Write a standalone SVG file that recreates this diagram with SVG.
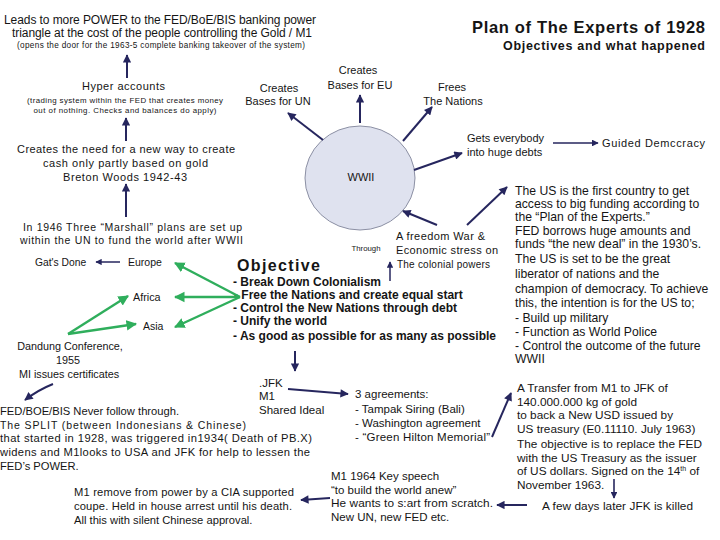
<svg xmlns="http://www.w3.org/2000/svg" width="720" height="540" viewBox="0 0 720 540">
<style>
text{font-family:"Liberation Sans",Arial,sans-serif;fill:#151515;font-size:11px}
.s{font-size:8.2px}
.m{font-size:11.5px}
.rb{font-size:12.2px}
.ob{font-size:12px;font-weight:bold}
.b{font-weight:bold}
.c{text-anchor:middle}
.r{text-anchor:end}
.nv{fill:none;stroke:#26265e;stroke-width:2}
.gr{fill:none;stroke:#2fae5c;stroke-width:2.4}
</style>
<defs>
<marker id="an" viewBox="0 0 10 10" refX="9" refY="5" markerWidth="4.6" markerHeight="4.2" orient="auto"><path d="M0,0 L10,5 L0,10 Z" fill="#26265e"/></marker>
<marker id="ag" viewBox="0 0 10 10" refX="9" refY="5" markerWidth="4.4" markerHeight="4.6" orient="auto"><path d="M0,0 L10,5 L0,10 Z" fill="#2fae5c"/></marker>
</defs>
<rect width="720" height="540" fill="#fff"/>

<g id="title">
<text x="705" y="33" class="b r" style="font-size:16.5px" textLength="233">Plan of The Experts of 1928</text>
<text x="705" y="50" class="b r" style="font-size:12.5px" textLength="202">Objectives and what happened</text>
</g>

<g id="power">
<text x="160" y="24" class="c" style="font-size:12px" textLength="312">Leads to more POWER to the FED/BoE/BIS banking power</text>
<text x="162" y="37" class="c" style="font-size:12px" textLength="300">triangle at the cost of the people controlling the Gold / M1</text>
<text x="161" y="47.5" class="c s" textLength="288">(opens the door for the 1963-5 complete banking takeover of the system)</text>
</g>

<g id="hyper">
<text x="123.5" y="90" class="c" textLength="83">Hyper accounts</text>
<text x="125" y="102.5" class="c s" style="font-size:7.9px" textLength="196">(trading system within the FED that creates money</text>
<text x="125" y="113" class="c s" style="font-size:7.9px" textLength="183">out of nothing. Checks and balances do apply)</text>
</g>

<g id="bretton">
<text x="126" y="153" class="c" textLength="218">Creates the need for a new way to create</text>
<text x="125.5" y="167" class="c" textLength="165">cash only partly based on gold</text>
<text x="125" y="181" class="c" textLength="124">Breton Woods 1942-43</text>
</g>

<g id="marshall">
<text x="132.5" y="231" class="c" style="font-size:10.5px" textLength="219">In 1946 Three “Marshall” plans are set up</text>
<text x="131.5" y="244" class="c" style="font-size:10.5px" textLength="223">within the UN to fund the world after WWII</text>
</g>

<g id="gatsdone"><text x="35" y="266" style="font-size:10.3px">Gat's Done</text></g>
<g id="europe"><text x="128" y="266" style="font-size:10.5px">Europe</text></g>
<g id="africa"><text x="133" y="300.5" style="font-size:10.8px">Africa</text></g>
<g id="asia"><text x="143" y="329.5" style="font-size:10.5px">Asia</text></g>

<g id="dandung">
<text x="70" y="350" class="c" style="font-size:10.8px">Dandung Conference,</text>
<text x="68" y="364" class="c" style="font-size:10.8px">1955</text>
<text x="69" y="377.5" class="c" style="font-size:10.8px">MI issues certificates</text>
</g>

<g id="un"><text x="279" y="92" class="c">Creates</text><text x="278" y="104.5" class="c">Bases for UN</text></g>
<g id="eu"><text x="358" y="74" class="c">Creates</text><text x="360" y="89" class="c">Bases for EU</text></g>
<g id="frees"><text x="452" y="91" class="c">Frees</text><text x="453" y="104.5" class="c">The Nations</text></g>

<g id="wwii">
<ellipse cx="360" cy="178" rx="55" ry="52" fill="#dfe2ef" stroke="#8c90a4" stroke-width="1"/>
<text x="361" y="181" class="c">WWII</text>
</g>

<g id="debts">
<text x="467" y="142" style="font-size:11px">Gets everybody</text>
<text x="467" y="156" style="font-size:11px">into huge debts</text>
</g>
<g id="guided"><text x="602" y="147" style="font-size:11px" textLength="103">Guided Demccracy</text></g>

<g id="freedom">
<text x="366" y="251" class="c" style="font-size:7.8px">Through</text>
<text x="396" y="240" textLength="89">A freedom War &amp;</text>
<text x="396" y="253.5" textLength="102">Economic stress on</text>
<text x="397" y="268" style="font-size:10px" textLength="93">The colonial powers</text>
</g>

<g id="usfirst">
<text x="515" y="195" class="rb">The US is the first country to get</text>
<text x="515" y="208" class="rb">access to big funding according to</text>
<text x="515" y="221" class="rb">the “Plan of the  Experts.”</text>
<text x="515" y="234.5" class="rb">FED borrows huge amounts and</text>
<text x="515" y="248" class="rb">funds “the new deal”  in the 1930’s.</text>
<text x="515" y="262.5" class="rb">The US is set to be the great</text>
<text x="515" y="277.5" class="rb">liberator of nations and the</text>
<text x="515" y="292.5" class="rb">champion of democracy. To achieve</text>
<text x="515" y="307" class="rb">this, the intention is for the US to;</text>
<text x="515" y="321.5" class="rb">- Build up military</text>
<text x="515" y="336" class="rb">- Function as World Police</text>
<text x="515" y="350" class="rb">- Control the outcome of the future</text>
<text x="515" y="362.5" class="rb">WWII</text>
</g>

<g id="objective">
<text x="237" y="271" class="b" style="font-size:16px" textLength="83">Objective</text>
<text x="233" y="286" class="ob">- Break Down Colonialism</text>
<text x="234" y="298.5" class="ob">- Free the Nations and create equal start</text>
<text x="233" y="312" class="ob">- Control the New Nations through debt</text>
<text x="233" y="325" class="ob">- Unify the world</text>
<text x="233" y="339.5" class="ob">- As good as possible for as many as possible</text>
</g>

<g id="jfk">
<text x="259" y="387" class="m">.JFK</text>
<text x="259" y="400" class="m">M1</text>
<text x="259" y="414" class="m">Shared Ideal</text>
</g>

<g id="agreements">
<text x="355" y="398" class="m">3 agreements:</text>
<text x="355" y="412.5" class="m">- Tampak Siring (Bali)</text>
<text x="355" y="426.5" class="m">- Washington agreement</text>
<text x="355" y="441" class="m" textLength="135">- “Green Hilton Memorial”</text>
</g>

<g id="transfer">
<text x="517" y="392" class="m" style="font-size:11.8px">A Transfer from M1 to JFK of</text>
<text x="517" y="405.5" class="m" style="font-size:11.8px">140.000.000 kg of gold</text>
<text x="517" y="419" class="m" style="font-size:11.8px">to back a New USD issued by</text>
<text x="517" y="433" class="m" style="font-size:11.8px">US treasury (E0.11110. July 1963)</text>
<text x="517" y="448" class="m" style="font-size:11.8px" textLength="185">The objective is to replace the FED</text>
<text x="517" y="461.5" class="m" style="font-size:11.8px">with the US Treasury as the issuer</text>
<text x="517" y="475" class="m" style="font-size:11.8px">of US dollars. Signed on the 14<tspan dy="-4" style="font-size:7px">th</tspan><tspan dy="4"> of</tspan></text>
<text x="517" y="489" class="m" style="font-size:11.8px">November 1963.</text>
</g>

<g id="killed"><text x="542" y="510" class="m" style="font-size:11.8px" textLength="151">A few days later JFK is killed</text></g>

<g id="speech">
<text x="331" y="480" class="m">M1 1964 Key speech</text>
<text x="331" y="493.5" class="m">“to build the world anew”</text>
<text x="331" y="507" class="m" style="font-size:11.8px" textLength="162">He wants to s:art from scratch.</text>
<text x="331" y="521" class="m">New UN, new FED etc.</text>
</g>

<g id="removed">
<text x="74" y="496" class="m" style="font-size:11.2px" textLength="220">M1 remove from power by a CIA supported</text>
<text x="74" y="510" class="m" style="font-size:11.2px" textLength="218">coupe. Held in house arrest until his death.</text>
<text x="74" y="524" class="m" style="font-size:11.2px">All this with silent Chinese approval.</text>
</g>

<g id="split">
<text x="0" y="415" style="font-size:11.2px">FED/BOE/BIS Never follow through.</text>
<text x="0" y="428.5" style="font-size:10.5px" textLength="246">The SPLIT (between Indonesians &amp; Chinese)</text>
<text x="0" y="442" style="font-size:11.2px" textLength="312">that started in 1928, was triggered in1934( Death of PB.X)</text>
<text x="0" y="456" style="font-size:11.2px" textLength="310">widens and M1looks to USA and JFK for help to lessen the</text>
<text x="0" y="470" style="font-size:11.2px">FED’s POWER.</text>
</g>

<g id="connectors">
<path class="nv" marker-end="url(#an)" d="M127,78 L127,55"/>
<path class="nv" marker-end="url(#an)" d="M126,141 L126,118"/>
<path class="nv" marker-end="url(#an)" d="M126,217 L126,184"/>
<path class="nv" marker-end="url(#an)" d="M120,262 L96,262" style="stroke-width:1.5"/>
<path class="nv" marker-end="url(#an)" d="M323,140 L288,113"/>
<path class="nv" marker-end="url(#an)" d="M360,123 L360,95"/>
<path class="nv" marker-end="url(#an)" d="M403,141 L432,107"/>
<path class="nv" marker-end="url(#an)" d="M414,170 L462,153"/>
<path class="nv" marker-end="url(#an)" d="M553,143 L598,143" style="stroke-width:1.6"/>
<path class="nv" marker-end="url(#an)" d="M437,225 L403,211"/>
<path class="nv" marker-end="url(#an)" d="M467,225 L507,187"/>
<path class="nv" marker-end="url(#an)" d="M390,281 L390,262" style="stroke-width:1.5"/>
<path class="nv" marker-end="url(#an)" d="M295,351 L295,371"/>
<path class="nv" marker-end="url(#an)" d="M288,389 L348,394"/>
<path class="nv" marker-end="url(#an)" d="M492,437 L511,393"/>
<path class="nv" marker-end="url(#an)" d="M614,479 L614,498" style="stroke-width:1.6"/>
<path class="nv" marker-end="url(#an)" d="M527,505 L497,505"/>
<path class="nv" marker-end="url(#an)" d="M330,498 L301,500"/>
<path class="nv" marker-end="url(#an)" d="M53,384 Q38,390 25,400"/>
<path class="gr" marker-end="url(#ag)" d="M240,297 L175,263"/>
<path class="gr" marker-end="url(#ag)" d="M240,297 L175,297"/>
<path class="gr" marker-end="url(#ag)" d="M240,297 L175,327"/>
<path class="gr" marker-end="url(#ag)" d="M68,334 L128,296"/>
<path class="gr" marker-end="url(#ag)" d="M68,334 L136,324"/>
</g>
</svg>
